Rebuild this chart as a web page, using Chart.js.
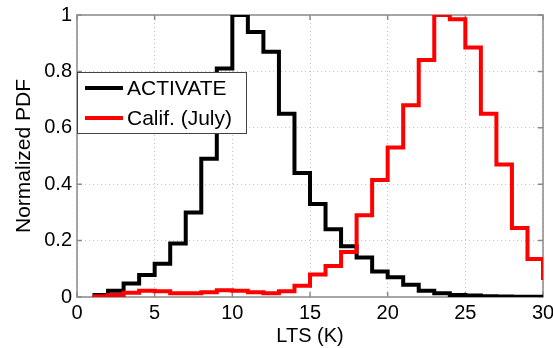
<!DOCTYPE html>
<html>
<head>
<meta charset="utf-8">
<script src="https://cdn.jsdelivr.net/npm/chart.js@4"></script>
<style>
  html, body { margin: 0; padding: 0; background: #fff; }
  #wrap { width: 553px; height: 348px; }
</style>
</head>
<body>
<div id="wrap"><canvas id="pdfChart"></canvas></div>
<script>
// left edge of each 1 K bin; the last entry closes the staircase at 30 K
const ltsBins = [1, 2, 3, 4, 5, 6, 7, 8, 9, 10, 11, 12, 13, 14, 15,
                 16, 17, 18, 19, 20, 21, 22, 23, 24, 25, 26, 27, 28, 29, 30];
const activatePdf = [0.007, 0.022, 0.048, 0.078, 0.118, 0.19, 0.30, 0.49, 0.81, 1.0,
                     0.94, 0.87, 0.65, 0.44, 0.33, 0.24, 0.18, 0.14, 0.09, 0.07,
                     0.043, 0.022, 0.013, 0.007, 0.005, 0.003, 0.002, 0.001, 0.001, 0.001];
const califPdf = [0.003, 0.007, 0.015, 0.022, 0.02, 0.013, 0.013, 0.017, 0.024, 0.022,
                  0.017, 0.013, 0.02, 0.04, 0.08, 0.11, 0.16, 0.29, 0.415, 0.53,
                  0.68, 0.84, 1.0, 0.985, 0.885, 0.65, 0.47, 0.245, 0.135, 0.06];
const xTicks = [0, 5, 10, 15, 20, 25, 30];
const yTicks = [0, 0.2, 0.4, 0.6, 0.8, 1];

const FONT = '"Liberation Sans", Arial, sans-serif';

const toPoints = vals => ltsBins.map((x, i) => ({ x: x, y: vals[i] }));

// matlab style box with inward ticks on all four sides
const frame = {
  id: 'frame',
  beforeDatasetsDraw(chart) {
    const { ctx, chartArea: a, scales: { x, y } } = chart;
    ctx.save();
    ctx.strokeStyle = '#8a8a8a';
    ctx.lineWidth = 1.5;
    ctx.strokeRect(a.left, a.top, a.right - a.left, a.bottom - a.top);
    ctx.beginPath();
    x.ticks.forEach(t => {
      const px = x.getPixelForValue(t.value);
      ctx.moveTo(px, a.bottom); ctx.lineTo(px, a.bottom - 5);
      ctx.moveTo(px, a.top); ctx.lineTo(px, a.top + 5);
    });
    y.ticks.forEach(t => {
      const py = y.getPixelForValue(t.value);
      ctx.moveTo(a.left, py); ctx.lineTo(a.left + 5, py);
      ctx.moveTo(a.right, py); ctx.lineTo(a.right - 5, py);
    });
    ctx.stroke();
    ctx.restore();
  }
};

// boxed legend inside the plot, upper left
const legendBox = {
  id: 'legendBox',
  afterDraw(chart) {
    const { ctx, chartArea: a } = chart;
    const left = a.left, top = a.top + 57, w = 169, h = 61;
    ctx.save();
    ctx.fillStyle = '#fff';
    ctx.fillRect(left, top, w, h);
    ctx.strokeStyle = '#444';
    ctx.lineWidth = 1;
    ctx.strokeRect(left + 0.5, top + 0.5, w, h);
    ctx.font = '21px ' + FONT;
    ctx.textBaseline = 'middle';
    chart.data.datasets.forEach((ds, i) => {
      const yy = top + 16 + i * 30;
      ctx.strokeStyle = ds.borderColor;
      ctx.lineWidth = 4;
      ctx.beginPath();
      ctx.moveTo(left + 8, yy);
      ctx.lineTo(left + 46, yy);
      ctx.stroke();
      ctx.fillStyle = '#000';
      ctx.fillText(ds.label, left + 50, yy + 1);
    });
    ctx.restore();
  }
};

const plainNum = v => String(+Number(v).toFixed(2));

const ctx = document.getElementById('pdfChart').getContext('2d');
const chart = new Chart(ctx, {
  type: 'line',
  data: {
    datasets: [{
      label: 'ACTIVATE',
      data: toPoints(activatePdf),
      borderColor: '#000000',
      borderWidth: 4,
      stepped: 'before',
      pointRadius: 0,
      fill: false,
      borderJoinStyle: 'miter',
      order: 1,
    }, {
      label: 'Calif. (July)',
      data: toPoints(califPdf),
      borderColor: '#ff0000',
      borderWidth: 4,
      stepped: 'before',
      pointRadius: 0,
      fill: false,
      borderJoinStyle: 'miter',
      order: 0,
    }]
  },
  options: {
    responsive: true,
    maintainAspectRatio: false,
    animation: false,
    devicePixelRatio: 1,
    layout: { padding: { left: 0, right: 10, top: 15, bottom: 0 } },
    plugins: { legend: { display: false }, tooltip: { enabled: false } },
    scales: {
      x: {
        type: 'linear',
        min: 0,
        max: 30,
        afterBuildTicks: s => { s.ticks = xTicks.map(v => ({ value: v })); },
        afterFit: s => { s.height = 51; s.paddingLeft = 0; s.paddingRight = 0; },
        ticks: { color: '#000', font: { family: FONT, size: 20 }, padding: 4, maxRotation: 0, callback: plainNum },
        grid: { color: '#c4c4c4', drawTicks: false },
        border: { display: false, dash: [1, 3] },
        title: { display: true, text: 'LTS (K)', color: '#000', font: { family: FONT, size: 20 }, padding: { top: 0, bottom: 0 } }
      },
      y: {
        min: 0,
        max: 1,
        afterBuildTicks: s => { s.ticks = yTicks.map(v => ({ value: v })); },
        afterFit: s => { s.width = 77; s.paddingTop = 0; s.paddingBottom = 0; },
        ticks: { color: '#000', font: { family: FONT, size: 20 }, padding: 5, callback: plainNum },
        grid: { color: '#c4c4c4', drawTicks: false },
        border: { display: false, dash: [1, 3] },
        title: { display: true, text: 'Normalized PDF', color: '#000', font: { family: FONT, size: 21 }, padding: { top: 12, bottom: 0 } }
      }
    }
  },
  plugins: [frame, legendBox]
});
</script>
</body>
</html>
